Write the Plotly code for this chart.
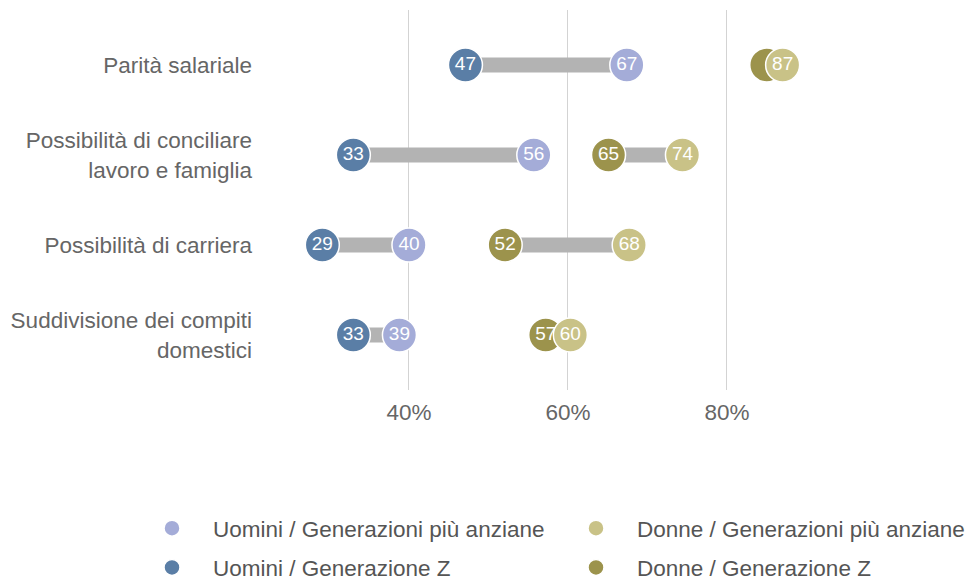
import plotly.graph_objects as go

categories = ["Parità salariale",
              "Possibilità di conciliare<br>lavoro e famiglia",
              "Possibilità di carriera",
              "Suddivisione dei compiti<br>domestici"]
uomini_z = [47.1, 33.0, 29.1, 33.0]
uomini_old = [67.4, 55.7, 40.0, 38.8]
donne_z = [85.0, 65.1, 52.1, 57.2]
donne_old = [87.0, 74.4, 67.7, 60.3]

tick_vals = [40, 60, 80]
tick_text = ["40%", "60%", "80%"]

C_U_OLD = "#a4acd8"
C_U_Z = "#5a7ea6"
C_D_OLD = "#c9c287"
C_D_Z = "#9c934c"
BAR = "#b3b3b3"
FONT = "Liberation Sans, Arial, sans-serif"

ypos = list(range(len(categories)))

fig = go.Figure()

# connecting bars
bx, by = [], []
for i in ypos:
    bx += [uomini_z[i], uomini_old[i], None, donne_z[i], donne_old[i], None]
    by += [i, i, None, i, i, None]
fig.add_trace(go.Scatter(x=bx, y=by, mode="lines", line=dict(color=BAR, width=15),
                         showlegend=False, hoverinfo="skip"))

def labels(vals, others=None):
    # label hidden when the dot is almost fully covered by its pair
    if others is None:
        return [f"{v:.0f}" for v in vals]
    return [f"{v:.0f}" if abs(o - v) >= 3 else "" for v, o in zip(vals, others)]

def dots(vals, txt, color, name, legend, group, rank):
    return go.Scatter(
        x=vals, y=ypos, mode="markers+text", name=name,
        marker=dict(color=color, size=34, line=dict(color="white", width=1.5)),
        text=txt, textposition="middle center",
        textfont=dict(color="white", size=19, family=FONT),
        legend=legend, legendgroup=group, legendrank=rank)

fig.add_trace(dots(uomini_z, labels(uomini_z, uomini_old), C_U_Z,
                   "Uomini / Generazione Z", "legend", "uz", 2))
fig.add_trace(dots(donne_z, labels(donne_z, donne_old), C_D_Z,
                   "Donne / Generazione Z", "legend2", "dz", 2))
fig.add_trace(dots(uomini_old, labels(uomini_old), C_U_OLD,
                   "Uomini / Generazioni più anziane", "legend", "uo", 1))
fig.add_trace(dots(donne_old, labels(donne_old), C_D_OLD,
                   "Donne / Generazioni più anziane", "legend2", "do", 1))

leg_common = dict(xref="container", yref="container", xanchor="left", yanchor="top",
                  font=dict(size=22.5, color="#555555", family=FONT), itemwidth=72,
                  tracegroupgap=7, bgcolor="rgba(0,0,0,0)", traceorder="grouped")

fig.update_layout(
    width=976, height=581,
    margin=dict(l=262, r=10, t=2, b=199, autoexpand=False),
    plot_bgcolor="white", paper_bgcolor="white",
    font=dict(family=FONT, color="#666666", size=22),
    legend=dict(x=123/976, y=1-499/581, **leg_common),
    legend2=dict(x=547/976, y=1-499/581, **leg_common),
    xaxis=dict(range=[22.52, 111.07], tickvals=tick_vals, ticktext=tick_text,
               showgrid=True, gridcolor="#d3d3d3", gridwidth=1, zeroline=False,
               showline=False, ticks="", ticklabelstandoff=6,
               tickfont=dict(size=22.5, color="#666666"), automargin=False),
    yaxis=dict(range=[3.611, -0.611], tickvals=ypos, ticktext=categories,
               showgrid=False, zeroline=False, showline=False,
               ticks="", ticklabelstandoff=17, tickfont=dict(size=22.5, color="#666666"),
               automargin=False),
)

fig.write_html("out.html")
